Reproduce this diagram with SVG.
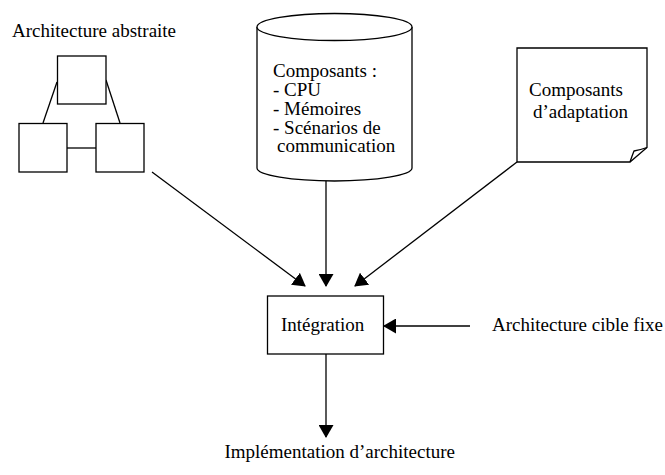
<svg xmlns="http://www.w3.org/2000/svg" width="665" height="475" viewBox="0 0 665 475">
<style>
.s{fill:none;stroke:#000;stroke-width:1.3}
.w{fill:#fff;stroke:#000;stroke-width:1.3}
text{font-family:"Liberation Serif","Times New Roman",serif;font-size:19px;fill:#000}
</style>
<defs>
<marker id="ah" viewBox="0 0 13 15" refX="12" refY="7.5" markerWidth="13" markerHeight="15" orient="auto" markerUnits="userSpaceOnUse"><path d="M0,0 L13,7.5 L0,15 Z" fill="#000"/></marker>
</defs>
<rect width="665" height="475" fill="#fff"/>
<g id="abstract">
<text x="12" y="37">Architecture abstraite</text>
<line class="s" x1="57" y1="82" x2="43" y2="123"/>
<line class="s" x1="106" y1="80" x2="120" y2="123"/>
<line class="s" x1="67" y1="148" x2="96" y2="148"/>
<rect class="w" x="57.5" y="56" width="48.5" height="48"/>
<rect class="w" x="19" y="123.5" width="48" height="48.5"/>
<rect class="w" x="96" y="123.5" width="48" height="48.5"/>
</g>
<g id="components">
<path class="w" d="M257,27 L257,168 A77.5,13 0 0 0 412,168 L412,27"/>
<ellipse class="w" cx="334.5" cy="27" rx="77.5" ry="13.5"/>
<text x="273" y="77">Composants :</text>
<text x="273" y="96">- CPU</text>
<text x="273" y="114.5">- Mémoires</text>
<text x="273" y="133.5">- Scénarios de</text>
<text x="277" y="152">communication</text>
</g>
<g id="adaptation">
<path class="w" d="M517,48 L647,48 L647,147.5 L630,162 L517,162 Z"/>
<path class="s" d="M630,162 Q632,156 634,151 Q640,150 647,147.5"/>
<text x="529" y="96">Composants</text>
<text x="533" y="118">d’adaptation</text>
</g>
<g id="integration">
<rect class="w" x="267.5" y="296" width="116" height="58"/>
<text x="281" y="331">Intégration</text>
</g>
<g id="target">
<text x="492" y="331">Architecture cible fixe</text>
</g>
<g id="implementation">
<text x="455" y="458" text-anchor="end">Implémentation d’architecture</text>
</g>
<g id="connectors">
<line class="s" x1="152" y1="172" x2="305" y2="286" marker-end="url(#ah)"/>
<line class="s" x1="326" y1="181" x2="326" y2="286" marker-end="url(#ah)"/>
<line class="s" x1="517" y1="162" x2="355" y2="286" marker-end="url(#ah)"/>
<line class="s" x1="470" y1="326" x2="384" y2="326" marker-end="url(#ah)"/>
<line class="s" x1="326" y1="354" x2="326" y2="437" marker-end="url(#ah)"/>
</g>
</svg>
